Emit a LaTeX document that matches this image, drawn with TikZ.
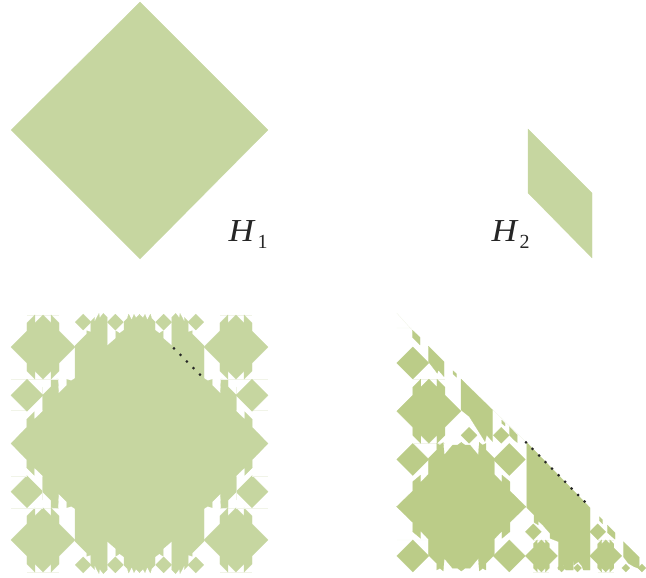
\documentclass[tikz,border=0pt]{standalone}
\usepackage{fontspec}
\setmainfont{Liberation Serif}
\definecolor{pale}{HTML}{C6D6A0}
\definecolor{deep}{HTML}{BBCC88}
\definecolor{hair}{HTML}{F1F4E8}
\tikzset{
  leaf/.style={fill=#1,draw=#1,line width=0.15pt},
  hairline/.style={draw=hair,line width=0.4pt},
  dotmark/.style={fill=black!85},
  lab/.style={anchor=base west,inner sep=0pt,outer sep=0pt},
  bigH/.style={lab,xscale=1.1,transform shape,text=black!85}
}
\newcommand{\dia}[4]{\path[leaf=#4] (#1-#3,#2) -- (#1,#2+#3) -- (#1+#3,#2) -- (#1,#2-#3) -- cycle;}
\newcommand{\crownshape}[4]{%
  \begin{scope}[shift={(#1,#2)},scale=#3]
    \draw[hairline] (-1,2) -- (1,2) (-1,-2) -- (1,-2);
    \path[leaf=#4] (-2,0) -- (-1,1) -- (-1,1.5) -- (-.5,2) -- (-.5,1.5) -- (0,2) -- (.5,1.5) -- (.5,2) -- (1,1.5) -- (1,1)
      -- (2,0) -- (1,-1) -- (1,-1.5) -- (.5,-2) -- (.5,-1.5) -- (0,-2) -- (-.5,-1.5) -- (-.5,-2) -- (-1,-1.5) -- (-1,-1) -- cycle;
  \end{scope}}
\begin{document}
\begin{tikzpicture}[x=1pt,y=-1pt]
\useasboundingbox (0,0) rectangle (646,578);
% H1, H2
\path[leaf=pale] (140,2) -- (268,130) -- (140,259) -- (11,130) -- cycle;
\path[leaf=pale] (528,129) -- (592,193) -- (592,258) -- (528,193) -- cycle;
\node[bigH] (hone) at (228.5,241) {\fontsize{32}{32}\selectfont\itshape H};
\node[lab,text=black!85] (honesub) at (257.5,248) {\fontsize{20}{20}\selectfont 1};
\node[bigH] (htwo) at (491.5,241) {\fontsize{32}{32}\selectfont\itshape H};
\node[lab,text=black!85] (htwosub) at (519.5,248) {\fontsize{20}{20}\selectfont 2};
% ---- lower left: four-fold figure
\foreach \sx/\sy in {1/1,-1/1,1/-1,-1/-1}{
  \begin{scope}[shift={(139.5,443.5)},xscale=\sx,yscale=\sy,scale=0.33333,shift={(-13.5,-400.5)}]
    \draw[hairline] (304,207) -- (400,207) (352,301) -- (400,301) (304,230) -- (304,300);
    \path[leaf=pale] (13.5,400.5) -- (399,400.5) -- (352,352) -- (352,328) -- (329,305) -- (329,328) -- (304,304)
      -- (304,255) -- (279,230) -- (279,208) -- (258,207) -- (256,250) -- (232,226) -- (232,208) -- (218,212) -- (207,205)
      -- (207,107) -- (172,72) -- (172,62) -- (160,66) -- (160,35) -- (148,22) -- (148,35) -- (135,10) -- (133,24)
      -- (122,10) -- (110,22) -- (110,107) -- (85,85) -- (85,62) -- (73,70) -- (60,60) -- (60,35) -- (50,25) -- (46,12)
      -- (37,30) -- (30,13) -- (24,24) -- (13.5,13) -- cycle;
  \end{scope}
  \begin{scope}[shift={(139.5,443.5)},xscale=\sx,yscale=\sy,x=16.08pt,y=-16.08pt]
    \crownshape{6}{6}{1}{pale}
    \dia{7}{3}{1}{pale}
    \dia{3.5}{7.55}{.5}{pale}
    \dia{1.5}{7.55}{.5}{pale}
  \end{scope}
}
\begin{scope}[shift={(139.5,443.5)},x=16.08pt,y=16.08pt]
  \dia{0}{0}{7.9}{pale}
\end{scope}
% ---- lower right: triangular figure
\draw[hairline] (396.7,313) -- (412,330) (396.7,328) -- (412,328) (493,410) -- (526,442) (397,540) -- (428,540);
\begin{scope}[shift={(396.7,572)},x=16.08pt,y=16.08pt]
  \dia{1}{7}{1}{deep}
  \dia{7}{7}{1}{deep}
  \dia{1}{1}{1}{deep}
  \dia{7}{1}{1}{deep}
  \dia{1}{13}{1}{deep}
  \crownshape{2}{10}{1}{deep}
  \crownshape{9}{1}{.5}{deep}
  \crownshape{13}{1}{.5}{deep}
  \dia{8.5}{2.5}{.5}{deep}
  \dia{12.5}{2.5}{.5}{deep}
  \dia{4.5}{8.5}{.5}{deep}
  \dia{6.5}{8.5}{.5}{deep}
  \dia{10.25}{.25}{.25}{deep}
  \dia{11.25}{.25}{.25}{deep}
  \dia{14.25}{.25}{.25}{deep}
  \dia{15.25}{.25}{.25}{deep}
\end{scope}
\foreach \sx/\sy in {1/1,-1/1,1/-1,-1/-1}{
  \begin{scope}[shift={(461.3,506.7)},xscale=\sx,yscale=\sy,scale=0.33333,shift={(-214,-215)}]
    \path[leaf=deep] (214,215) -- (408,215) -- (360,168) -- (360,140) -- (336,120) -- (336,142) -- (313,118) -- (313,70)
      -- (288,45) -- (288,25) -- (278,30) -- (268,22) -- (265,60) -- (240,30) -- (225,30) -- (214,22) -- cycle;
  \end{scope}
}
\begin{scope}[shift={(461.3,506.7)},x=16.08pt,y=16.08pt]
  \dia{0}{0}{3.9}{deep}
\end{scope}
\begin{scope}[shift={(520,435)},scale=0.33333]
  \path[leaf=deep] (20,22) -- (20,218) -- (42,240) -- (42,262) -- (55,270) -- (55,258) -- (68,270) -- (90,295) -- (90,310)
    -- (115,320) -- (115,405) -- (130,390) -- (137,405) -- (160,405) -- (160,362) -- (162,390) -- (175,380) -- (185,392)
    -- (190,405) -- (210,405) -- (210,218) -- cycle;
\end{scope}
\begin{scope}[shift={(380,300)},scale=0.33333]
  \path[leaf=deep] (243,237) -- (338,330) -- (338,425) -- (320,405) -- (315,425) -- (290,385) -- (268,350) -- (243,330) -- cycle;
  \path[leaf=deep] (145,138) -- (192,185) -- (192,230) -- (175,210) -- (172,220) -- (145,185) -- cycle;
  \path[leaf=deep] (97,90) -- (120,112) -- (120,135) -- (97,112) -- cycle;
  \path[leaf=deep] (219,212) -- (230,222) -- (230,232) -- (219,222) -- cycle;
  \path[leaf=deep] (365,360) -- (375,370) -- (375,378) -- (365,370) -- cycle;
  \path[leaf=deep] (388,380) -- (412,405) -- (412,428) -- (400,418) -- (388,405) -- cycle;
  \path[leaf=deep] (658,650) -- (668,660) -- (668,672) -- (658,662) -- cycle;
  \path[leaf=deep] (682,675) -- (705,698) -- (705,718) -- (682,698) -- cycle;
  \path[leaf=deep] (730,725) -- (778,772) -- (778,806) -- (762,800) -- (745,790) -- (730,770) -- cycle;
  % dots on the right figure
  \foreach \i in {0,...,9}{
    \fill[dotmark] ({438+19.55*\i},{427+19.75*\i}) circle[radius=4.5];
  }
\end{scope}
% dots on the left figure
\begin{scope}[shift={(0,300)},scale=0.33333]
  \foreach \i in {0,...,4}{
    \fill[dotmark] ({522+19.5*\i},{145+19.75*\i}) circle[radius=4.5];
  }
\end{scope}
\end{tikzpicture}
\end{document}
